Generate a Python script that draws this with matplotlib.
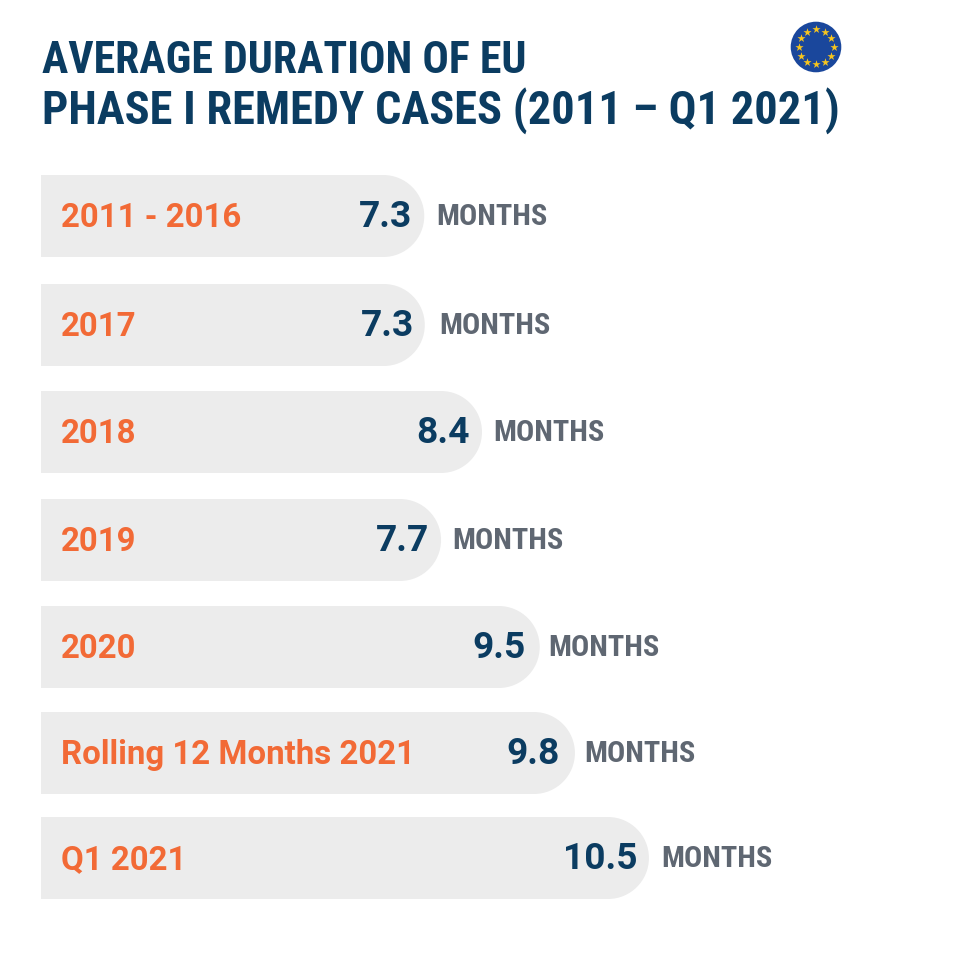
import numpy as np
import matplotlib
matplotlib.use("Agg")
import matplotlib.pyplot as plt
from matplotlib.patches import PathPatch, Circle
from matplotlib.path import Path

categories = ["2011 - 2016", "2017", "2018", "2019", "2020", "Rolling 12 Months 2021", "Q1 2021"]
value_labels = ["7.3", "7.3", "8.4", "7.7", "9.5", "9.8", "10.5"]
# drawn bar lengths (the original bars are not strictly to scale)
bar_lengths = [7.3, 7.31, 8.4, 7.62, 9.5, 10.17, 11.58]

W, H = 968, 955
PX_PER_MONTH = 52.5
LEFT = 41
row_centers = [216, 325, 432, 540, 647, 753, 858]
value_gap = [12, 11, 12, 12, 14, 15, 11]
unit_gap = [12, 14, 11, 11, 8, 9, 12]
BAR_H = 82
ORANGE = "#F26A36"
NAVY = "#0B3C61"
GRAY = "#5F6772"
BAR = "#ECECEC"
COND = ["Roboto Condensed", "Barlow Condensed", "Roboto", "DejaVu Sans"]
PT = 0.72

fig = plt.figure(figsize=(W / 100, H / 100), dpi=100, facecolor="white")
ax = fig.add_axes([LEFT / W, 0, 1 - LEFT / W, 1])
ax.set_xlim(0, (W - LEFT) / PX_PER_MONTH)
ax.set_ylim(H, 0)
ax.axis("off")

rx = (BAR_H / 2) / PX_PER_MONTH
K = 0.5523
for cat, vl, L, yc, vg, ug in zip(categories, value_labels, bar_lengths, row_centers, value_gap, unit_gap):
    r = BAR_H / 2
    t, b = yc - r, yc + r
    x0 = L - rx
    verts = [(0, t), (x0, t),
             (x0 + K * rx, t), (L, yc - K * r), (L, yc),
             (L, yc + K * r), (x0 + K * rx, b), (x0, b),
             (0, b), (0, t)]
    codes = [Path.MOVETO, Path.LINETO, Path.CURVE4, Path.CURVE4, Path.CURVE4,
             Path.CURVE4, Path.CURVE4, Path.CURVE4, Path.LINETO, Path.CLOSEPOLY]
    ax.add_patch(PathPatch(Path(verts, codes), fc=BAR, ec="none"))
    ax.annotate(cat, (0, yc), xytext=(20 * PT, -11 * PT), textcoords="offset points",
                ha="left", va="baseline", color=ORANGE, fontsize=23.8,
                fontfamily="Roboto", fontweight="bold")
    ax.annotate(vl, (L, yc), xytext=(-vg * PT, -11 * PT), textcoords="offset points",
                ha="right", va="baseline", color=NAVY, fontsize=26.7,
                fontfamily="Roboto", fontweight="bold")
    ax.annotate("MONTHS", (L, yc), xytext=(ug * PT, -9 * PT), textcoords="offset points",
                ha="left", va="baseline", color=GRAY, fontsize=21.8,
                fontfamily=COND, fontweight="bold")

fig.text(42 / W, 1 - 73 / H, "AVERAGE DURATION OF EU", color=NAVY, fontsize=31.6,
         fontfamily=COND, fontweight="bold", ha="left", va="baseline")
fig.text(42 / W, 1 - 124 / H, "PHASE I REMEDY CASES (2011 – Q1 2021)", color=NAVY, fontsize=33.4,
         fontfamily=COND, fontweight="bold", ha="left", va="baseline")

# EU flag badge
fx = fig.add_axes([(816 - 26) / W, 1 - (47 + 26) / H, 52 / W, 52 / H])
fx.set_xlim(-26, 26); fx.set_ylim(-26, 26); fx.set_aspect("equal"); fx.axis("off")
fx.add_patch(Circle((0, 0), 25.3, fc="#1A479C", ec="none"))
ang = np.deg2rad(np.arange(0, 360, 30))
fx.scatter(17.5 * np.cos(ang), 17.5 * np.sin(ang), marker="*", s=38, c="#F7C51E", linewidths=0)

fig.savefig("out.png", dpi=100, facecolor="white")
